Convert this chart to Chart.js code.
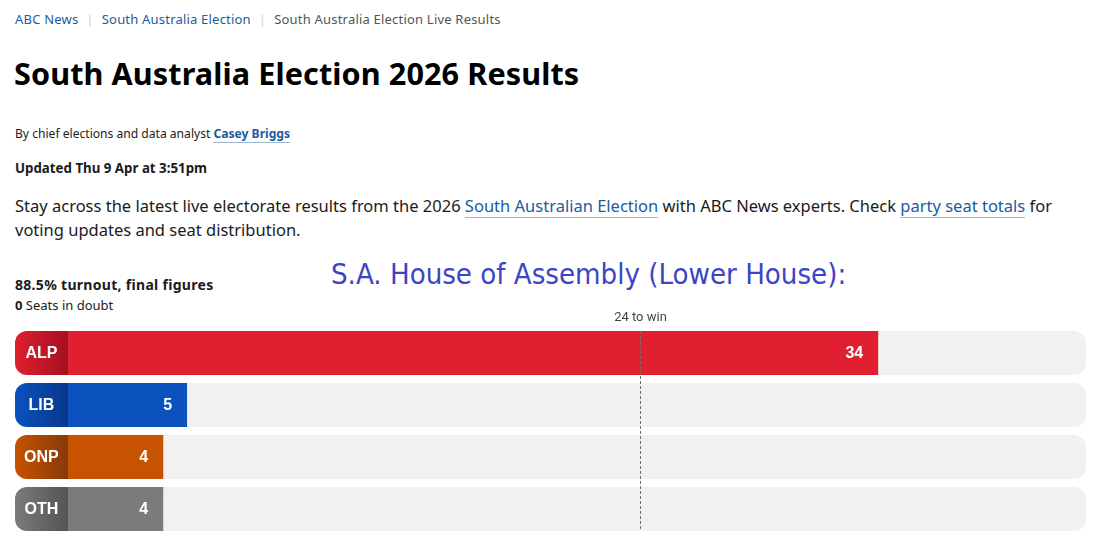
<!DOCTYPE html>
<html>
<head>
<meta charset="utf-8">
<script src="https://cdn.jsdelivr.net/npm/chart.js@4.4.1/dist/chart.umd.min.js"></script>
<style>
  html, body { margin: 0; padding: 0; background: #fff; }
  body { width: 1096px; height: 547px; position: relative; overflow: hidden; font-family: "Noto Sans", sans-serif; color: #1b1b1b; }
  .abs { position: absolute; white-space: nowrap; }
  a { color: #1b5c9e; text-decoration: none; }
  .crumbs { left: 15px; top: 10px; font-size: 13px; letter-spacing: 0.2px; }
  .crumbs .sep { color: #d4d4d4; margin: 0 8px; }
  .crumbs .cur { color: #555; }
  h1 { position: absolute; left: 14px; top: 52px; margin: 0; font-size: 30.6px; font-weight: 700; color: #000; letter-spacing: 0.1px; }
  .byline { left: 15px; top: 125px; font-size: 12.1px; }
  .byline a { font-weight: 700; border-bottom: 1px solid #9fb6cf; }
  .updated { left: 15px; top: 159px; font-size: 13.3px; font-weight: 700; }
  .intro { left: 15px; top: 194px; font-size: 16.5px; line-height: 24px; width: 1060px; white-space: normal; }
  .intro a { border-bottom: 1px solid #9fb6cf; }
  .turnout { left: 15px; top: 275px; font-size: 14px; font-weight: 700; letter-spacing: 0.3px; }
  .doubt { left: 15px; top: 296px; font-size: 13px; }
  .house { left: 331px; top: 257px; font-family: "DejaVu Sans Condensed", "DejaVu Sans", sans-serif; font-stretch: condensed; font-size: 29.1px; color: #3c46c4; }
  #wrap { position: absolute; left: 0; top: 300px; width: 1096px; height: 247px; }
</style>
</head>
<body>
<div class="abs crumbs"><a>ABC News</a><span class="sep">|</span><a>South Australia Election</a><span class="sep">|</span><span class="cur">South Australia Election Live Results</span></div>
<h1>South Australia Election 2026 Results</h1>
<div class="abs byline">By chief elections and data analyst <a>Casey Briggs</a></div>
<div class="abs updated">Updated Thu 9 Apr at 3:51pm</div>
<div class="abs intro">Stay across the latest live electorate results from the 2026 <a>South Australian Election</a> with ABC News experts. Check <a>party seat totals</a> for voting updates and seat distribution.</div>
<div class="abs turnout">88.5% turnout, final figures</div>
<div class="abs doubt"><b>0</b> Seats in doubt</div>
<div class="abs house">S.A. House of Assembly (Lower House):</div>
<div id="wrap"><canvas id="grafico"></canvas></div>

<script>
// Datos del gráfico
const partidos = ['ALP', 'LIB', 'ONP', 'OTH'];
const escanos = [34, 5, 4, 4];
const colores = ['#e01f30', '#0b52bf', '#c75300', '#7b7b7b'];
const coloresOscuros = ['#a3101f', '#07378a', '#86390a', '#545454'];
const paraGanar = 24;
const textoGanar = paraGanar + ' to win';

// Rango del eje: la zona negativa es la caja de la etiqueta
const ejeMin = -2.22;
const ejeMax = 42.72;

// Fondo del bar con degradado en la caja de la etiqueta
function fondoPartido(ctx) {
    const chart = ctx.chart;
    const area = chart.chartArea;
    if (!area) return colores[ctx.dataIndex];
    const x = chart.scales.x;
    const x0 = x.getPixelForValue(ejeMin);
    const xCero = x.getPixelForValue(0);
    const g = chart.ctx.createLinearGradient(x0, 0, xCero + 0.5, 0);
    g.addColorStop(0, colores[ctx.dataIndex]);
    g.addColorStop(0.999, coloresOscuros[ctx.dataIndex]);
    g.addColorStop(1, colores[ctx.dataIndex]);
    return g;
}

const etiquetas = {
    id: 'etiquetas',
    afterDatasetsDraw(chart) {
        const c = chart.ctx;
        const x = chart.scales.x;
        const meta = chart.getDatasetMeta(1);
        const x0 = x.getPixelForValue(ejeMin);
        const xCero = x.getPixelForValue(0);
        c.save();
        // Nombres de partido y número de escaños
        c.fillStyle = '#fff';
        c.font = 'bold 16px "Liberation Sans", Arial, sans-serif';
        c.textBaseline = 'middle';
        meta.data.forEach((bar, i) => {
            c.textAlign = 'center';
            c.fillText(partidos[i], (x0 + xCero) / 2, bar.y + 1);
            c.textAlign = 'right';
            c.fillText(String(escanos[i]), x.getPixelForValue(escanos[i]) - 15, bar.y + 1);
        });
        // Línea de mayoría
        const xl = Math.round(x.getPixelForValue(paraGanar)) + 0.5;
        c.strokeStyle = '#6f6f6f';
        c.lineWidth = 1;
        c.setLineDash([3, 2]);
        c.beginPath();
        c.moveTo(xl, chart.chartArea.top + 4);
        c.lineTo(xl, chart.chartArea.bottom - 4);
        c.stroke();
        c.setLineDash([]);
        c.fillStyle = '#444';
        c.font = '13px Roboto, sans-serif';
        c.textAlign = 'center';
        c.textBaseline = 'alphabetic';
        c.fillText(textoGanar, xl, chart.chartArea.top - 6);
        c.restore();
    }
};

const ctx = document.getElementById('grafico').getContext('2d');
const chart = new Chart(ctx, {
    type: 'bar',
    data: {
        labels: partidos,
        datasets: [
            {
                // Pista gris de fondo
                label: 'total',
                data: partidos.map(() => [ejeMin, ejeMax]),
                backgroundColor: '#f1f1f1',
                borderRadius: 12,
                borderSkipped: false,
                grouped: false,
                order: 2
            },
            {
                label: 'Escaños',
                data: escanos.map(v => [ejeMin, v]),
                backgroundColor: fondoPartido,
                borderRadius: { topLeft: 12, bottomLeft: 12, topRight: 0, bottomRight: 0 },
                borderSkipped: false,
                grouped: false,
                order: 1
            }
        ]
    },
    options: {
        indexAxis: 'y',
        responsive: true,
        maintainAspectRatio: false,
        animation: false,
        datasets: { bar: { categoryPercentage: 1, barPercentage: 44 / 52 } },
        layout: { padding: { left: 15, right: 10, top: 27, bottom: 12 } },
        scales: {
            x: { min: ejeMin, max: ejeMax, display: false },
            y: { display: false }
        },
        plugins: {
            legend: { display: false },
            tooltip: { enabled: false }
        }
    },
    plugins: [etiquetas]
});
</script>
</body>
</html>
